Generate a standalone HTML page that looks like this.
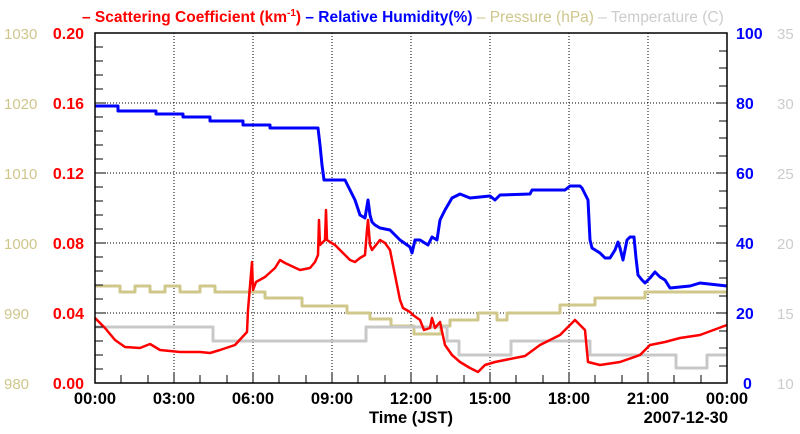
<!DOCTYPE html>
<html><head><style>body{margin:0;background:#fff}svg{display:block}text{font-family:"Liberation Sans",sans-serif;font-weight:bold}</style></head><body>
<svg width="800" height="434" viewBox="0 0 800 434" xmlns="http://www.w3.org/2000/svg">
<g stroke="#000" stroke-width="1" stroke-dasharray="1,2">
<line x1="174" y1="33" x2="174" y2="383"/><line x1="253" y1="33" x2="253" y2="383"/><line x1="332" y1="33" x2="332" y2="383"/><line x1="411" y1="33" x2="411" y2="383"/><line x1="490" y1="33" x2="490" y2="383"/><line x1="569" y1="33" x2="569" y2="383"/><line x1="648" y1="33" x2="648" y2="383"/>
<line x1="95" y1="103" x2="727" y2="103"/><line x1="95" y1="173" x2="727" y2="173"/><line x1="95" y1="243" x2="727" y2="243"/><line x1="95" y1="313" x2="727" y2="313"/>
</g>
<g fill="none" stroke-width="3" stroke-linejoin="round">
<polyline stroke="#d0c78a" points="95,286 120,286 120,292 135,292 135,286 150,286 150,292 165,292 165,286 180,286 180,292 200,292 200,286 215,286 215,292 265,292 265,298 302,298 302,306 347,306 347,313 370,313 370,319 391,319 391,326 414,326 414,334 441,334 441,326 450,326 450,320 478,320 478,313 497,313 497,320 507,320 507,313 560,313 560,305 595,305 595,298 645,298 645,292 727,292"/>
<polyline stroke="#c8c8c8" points="95,327 213,327 213,341 366,341 366,327 447,327 447,341 459,341 459,355 511,355 511,341 590,341 590,355 676,355 676,368 707,368 707,355 727,355"/>
<polyline stroke="#0000ff" points="95,106 118,106 118,111 156,111 156,114 183,114 183,117 210,117 210,121 243,121 243,125 270,125 270,128 318,128 320,145 322,165 324,180 345,180 350,190 355,200 360,215 365,218 368,200 370,215 372,222 375,225 380,228 390,230 400,240 410,247 412,253 415,240 420,240 428,245 432,237 437,240 440,220 445,210 452,198 460,194 470,198 490,196 495,200 500,195 530,194 532,190 565,190 570,186 580,186 582,188 588,200 590,240 592,248 600,253 605,258 610,258 615,250 618,242 620,248 623,260 627,240 630,237 634,237 636,258 638,275 642,280 645,283 650,278 655,272 660,277 665,280 670,288 680,287 690,286 700,283 727,286"/>
<polyline stroke="#ff0000" stroke-width="2.5" points="95,318 105,328 115,340 125,347 140,348 150,344 160,350 180,352 200,352 210,353 220,350 235,345 247,332 248,310 252,262 253,290 256,282 265,277 275,268 280,260 285,263 300,270 310,268 315,262 318,255 319,220 320,245 325,240 326,210 327,240 330,242 335,245 340,250 350,260 355,262 360,258 365,255 367,230 368,220 370,245 372,250 380,240 385,243 390,250 393,265 397,285 400,300 403,308 410,312 413,315 420,320 424,330 430,328 432,318 435,328 440,322 443,336 445,345 452,355 460,362 470,368 478,372 485,365 495,362 505,360 525,356 540,345 560,335 575,320 580,325 585,330 588,362 600,365 620,362 640,355 650,345 665,342 680,338 700,335 727,325"/>
</g>
<rect x="95" y="33" width="632" height="350" stroke="#000" stroke-width="1.5" fill="none"/>
<g stroke="#000" stroke-width="1">
<path d="M95 369h8M95 355h8M95 341h8M95 327h8M95 313h11M95 299h8M95 285h8M95 271h8M95 257h8M95 243h11M95 229h8M95 215h8M95 201h8M95 187h8M95 173h11M95 159h8M95 145h8M95 131h8M95 117h8M95 103h11M95 89h8M95 75h8M95 61h8M95 47h8"/>
<path d="M727 366h-8M727 348h-8M727 331h-8M727 313h-11M727 296h-8M727 278h-8M727 261h-8M727 243h-11M727 226h-8M727 208h-8M727 191h-8M727 173h-11M727 156h-8M727 138h-8M727 121h-8M727 103h-11M727 86h-8M727 68h-8M727 51h-8"/>
<path d="M121 383v-8M148 383v-8M174 383v-11M200 383v-8M227 383v-8M253 383v-11M279 383v-8M306 383v-8M332 383v-11M358 383v-8M385 383v-8M411 383v-11M437 383v-8M464 383v-8M490 383v-11M516 383v-8M543 383v-8M569 383v-11M595 383v-8M622 383v-8M648 383v-11M674 383v-8M701 383v-8"/>
</g>
<g font-size="16" fill="#ff0000" text-anchor="end">
<text x="84" y="389">0.00</text><text x="84" y="319">0.04</text><text x="84" y="249">0.08</text><text x="84" y="179">0.12</text><text x="84" y="109">0.16</text><text x="84" y="39">0.20</text>
</g>
<g font-size="15" fill="#cfc68c">
<text x="4" y="389" style="font-weight:normal">980</text><text x="4" y="319" style="font-weight:normal">990</text><text x="4" y="249" style="font-weight:normal">1000</text><text x="4" y="179" style="font-weight:normal">1010</text><text x="4" y="109" style="font-weight:normal">1020</text><text x="4" y="39" style="font-weight:normal">1030</text>
</g>
<g font-size="16" fill="#0000ff">
<text x="743" y="389">0</text><text x="736" y="319">20</text><text x="736" y="249">40</text><text x="736" y="179">60</text><text x="736" y="109">80</text><text x="736" y="39">100</text>
</g>
<g font-size="15" fill="#cccccc">
<text x="777" y="389" style="font-weight:normal">10</text><text x="777" y="319" style="font-weight:normal">15</text><text x="777" y="249" style="font-weight:normal">20</text><text x="777" y="179" style="font-weight:normal">25</text><text x="777" y="109" style="font-weight:normal">30</text><text x="777" y="39" style="font-weight:normal">35</text>
</g>
<g font-size="16.5" fill="#000" text-anchor="middle">
<text x="95" y="404">00:00</text><text x="174" y="404">03:00</text><text x="253" y="404">06:00</text><text x="332" y="404">09:00</text><text x="411" y="404">12:00</text><text x="490" y="404">15:00</text><text x="569" y="404">18:00</text><text x="648" y="404">21:00</text><text x="727" y="404">00:00</text>
<text x="411" y="423">Time (JST)</text>
</g>
<text x="728" y="423" font-size="16.5" text-anchor="end">2007-12-30</text>
<text x="82" y="22" font-size="15.5"><tspan fill="#ff0000">– Scattering Coefficient (km<tspan font-size="10" dy="-6">-1</tspan><tspan dy="6">)</tspan></tspan><tspan fill="#0000ff"> – Relative Humidity(%)</tspan><tspan fill="#cfc68c" style="font-weight:normal"> – Pressure (hPa)</tspan><tspan fill="#cccccc" style="font-weight:normal"> – Temperature (C)</tspan></text>
</svg>
</body></html>
